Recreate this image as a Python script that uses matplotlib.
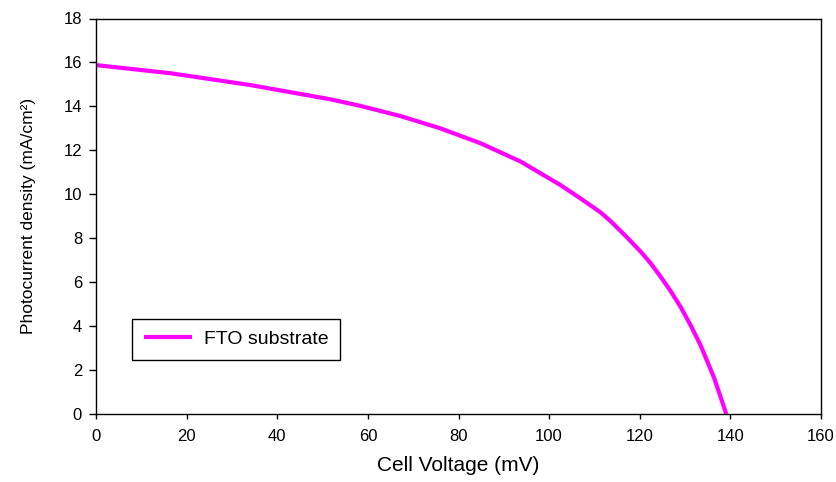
import numpy as np
import matplotlib
matplotlib.use("Agg")
import matplotlib.pyplot as plt

plt.rcParams['font.family'] = ['Liberation Sans', 'DejaVu Sans']

# J-V curve of the cell on the FTO substrate
voltage = [0, 16.4, 34.1, 51.8, 58.4, 67.2, 76.0, 84.9, 93.7, 102.5, 107.0,
           111.4, 113.6, 116.9, 120.2, 122.4, 124.6, 126.8, 129.0, 131.2,
           133.4, 136.4, 137.5, 139.1]
current = [15.88, 15.51, 14.97, 14.32, 14.02, 13.56, 13.00, 12.32, 11.49, 10.42,
           9.80, 9.17, 8.77, 8.10, 7.39, 6.86, 6.25, 5.60, 4.88, 4.05,
           3.14, 1.65, 0.98, 0]
xticks = [0, 20, 40, 60, 80, 100, 120, 140, 160]
yticks = [0, 2, 4, 6, 8, 10, 12, 14, 16, 18]

fig = plt.figure(figsize=(8.36, 4.82), dpi=100)
ax = fig.add_axes([96 / 836, 1 - 414 / 482, (821 - 96) / 836, (414 - 18.5) / 482])

ax.plot(voltage, current, color='#ff00ff', linewidth=3.0,
        solid_capstyle='butt', solid_joinstyle='round', label='FTO substrate')

ax.set_xlim(0, 160)
ax.set_ylim(0, 18)
ax.set_xticks(xticks)
ax.set_yticks(yticks)
ax.tick_params(axis='y', direction='out', length=5, width=1, labelsize=12, pad=5)
ax.tick_params(axis='x', direction='out', length=3.5, width=1, labelsize=12, pad=7)
for s in ax.spines.values():
    s.set_linewidth(1.0)
    s.set_color('black')

ax.set_xlabel('Cell Voltage (mV)', fontsize=15, labelpad=9)
ax.set_ylabel('Photocurrent density (mA/cm²)', fontsize=12.5, labelpad=20)

leg = ax.legend(loc='upper left', bbox_to_anchor=(132 / 836, 1 - 319 / 482),
                bbox_transform=fig.transFigure, borderaxespad=0,
                fancybox=False, edgecolor='black', framealpha=1,
                fontsize=14, handlelength=2.5, handletextpad=0.6,
                borderpad=0.6)
leg.get_frame().set_linewidth(1.0)

fig.savefig('out.png', dpi=100)
